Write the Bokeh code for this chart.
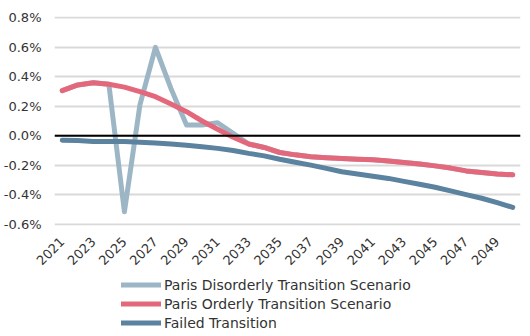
from bokeh.plotting import figure
from bokeh.models import Range1d, FixedTicker, PrintfTickFormatter, Span, Legend, LegendItem
from bokeh.layouts import column
from bokeh.embed import file_html
from bokeh.resources import INLINE
import math

years = list(range(2021, 2051))
disorderly = [0.306, 0.345, 0.36, 0.35, -0.517, 0.21, 0.60, 0.32, 0.073, 0.073,
              0.088, 0.016, -0.056, -0.08, -0.114, -0.13, -0.143, -0.15, -0.155, -0.16,
              -0.164, -0.172, -0.182, -0.192, -0.205, -0.22, -0.239, -0.25, -0.26, -0.266]
orderly = [0.306, 0.345, 0.36, 0.35, 0.33, 0.30, 0.265, 0.215, 0.163, 0.10,
           0.044, -0.01, -0.056, -0.08, -0.114, -0.13, -0.143, -0.15, -0.155, -0.16,
           -0.164, -0.172, -0.182, -0.192, -0.205, -0.22, -0.239, -0.25, -0.26, -0.266]
failed = [-0.03, -0.033, -0.04, -0.04, -0.04, -0.045, -0.05, -0.057, -0.065, -0.075,
          -0.086, -0.10, -0.12, -0.137, -0.16, -0.18, -0.20, -0.222, -0.245, -0.26,
          -0.275, -0.29, -0.31, -0.33, -0.35, -0.375, -0.40, -0.425, -0.455, -0.487]
names = ["Paris Disorderly Transition Scenario", "Paris Orderly Transition Scenario", "Failed Transition"]
colors = ["#9db6c6", "#e4687b", "#5b829e"]
y_ticks = [-0.6, -0.4, -0.2, 0.0, 0.2, 0.4, 0.6, 0.8]
x_ticks = list(range(2021, 2050, 2))

FONT = "DejaVu Sans"
TXT = "#333333"

p = figure(width=530, height=272, output_backend="svg", toolbar_location=None,
           x_range=Range1d(2020.5, 2050.5), y_range=Range1d(-0.61, 0.81),
           min_border_left=53, min_border_right=10, min_border_top=16, min_border_bottom=47)
p.outline_line_color = None
p.background_fill_color = "white"
p.border_fill_color = "white"

p.xgrid.visible = False
p.ygrid.ticker = FixedTicker(ticks=y_ticks)
p.ygrid.grid_line_color = "#d9d9d9"
p.ygrid.grid_line_width = 2

p.yaxis.ticker = FixedTicker(ticks=y_ticks)
p.yaxis.formatter = PrintfTickFormatter(format="%.1f%%")
p.xaxis.ticker = FixedTicker(ticks=x_ticks)
for ax in (p.xaxis[0], p.yaxis[0]):
    ax.axis_line_color = None
    ax.major_tick_line_color = None
    ax.minor_tick_line_color = None
    ax.major_label_text_font = FONT
    ax.major_label_text_font_size = "13px"
    ax.major_label_text_color = TXT
p.yaxis.major_label_standoff = 7
p.xaxis.major_label_standoff = 8
p.xaxis.major_label_orientation = math.pi / 4

for ys, c in zip([disorderly, orderly, failed], colors):
    p.line(years, ys, line_color=c, line_width=5, line_cap="round", line_join="round")

p.add_layout(Span(location=0, dimension="width", line_color="black", line_width=2))

# legend strip
q = figure(width=530, height=64, output_backend="svg", toolbar_location=None,
           x_range=Range1d(0, 1), y_range=Range1d(0, 1),
           x_axis_location=None, y_axis_location=None,
           min_border_left=0, min_border_right=0, min_border_top=0, min_border_bottom=0)
q.grid.visible = False
q.outline_line_color = None
leg_r = []
for c in colors:
    leg_r.append(q.line([-5, -4], [-5, -4], line_color=c, line_width=5, line_cap="round"))

legend = Legend(items=[LegendItem(label=n, renderers=[r]) for n, r in zip(names, leg_r)],
                location=(67, 4), orientation="vertical")
legend.background_fill_alpha = 0
legend.border_line_color = None
legend.padding = 0
legend.spacing = 0
legend.margin = 0
legend.label_height = 19
legend.glyph_height = 19
legend.glyph_width = 40
legend.label_standoff = 3
legend.label_text_font = FONT
legend.label_text_font_size = "14px"
legend.label_text_color = TXT
q.add_layout(legend, "center")

open("out.html", "w").write(file_html(column(p, q, spacing=0), INLINE))
